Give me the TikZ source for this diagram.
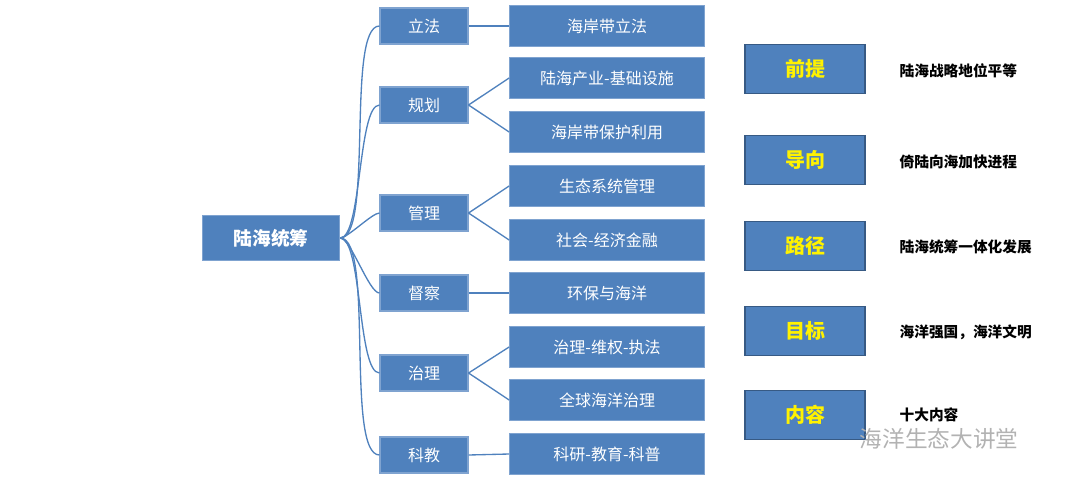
\documentclass[tikz,border=0pt]{standalone}
\usepackage{fontspec}
\setmainfont{Noto Sans CJK SC}
\definecolor{boxblue}{HTML}{4F81BD}
\definecolor{boxline}{HTML}{7FA3D0}
\begin{document}
\begin{tikzpicture}[x=0.75pt,y=-0.75pt,
  box/.style={draw=boxline,fill=boxblue,text=white,line width=0.8pt,inner sep=0pt,font=\fontsize{12}{12}\selectfont},
  mid/.style={box,minimum width=66pt,minimum height=27pt},
  leaf/.style={box,minimum width=146pt,minimum height=31pt},
  key/.style={box,draw=boxblue!70!black,minimum width=90pt,minimum height=37pt,text=yellow,font=\fontsize{15}{15}\bfseries\selectfont},
  note/.style={anchor=west,font=\fontsize{11}{11}\bfseries\selectfont},
  link/.style={draw=boxblue,line width=1pt}]
\useasboundingbox (0,0) rectangle (1080,478);
\node[box,minimum width=103pt,minimum height=34pt,font=\fontsize{14}{14}\bfseries\selectfont] (root) at (271,238) {陆海统筹};
\node[mid] (lifa) at (424,26) {立法};
\node[mid] (guihua) at (424,105) {规划};
\node[mid] (guanli) at (424,213) {管理};
\node[mid] (ducha) at (424,293) {督察};
\node[mid] (zhili) at (424,373) {治理};
\node[mid] (kejiao) at (424,455) {科教};
\node[leaf] (l1) at (607,26) {海岸带立法};
\node[leaf] (l2) at (607,78) {陆海产业-基础设施};
\node[leaf] (l3) at (607,132) {海岸带保护利用};
\node[leaf] (l4) at (607,186) {生态系统管理};
\node[leaf] (l5) at (607,240) {社会-经济金融};
\node[leaf] (l6) at (607,293) {环保与海洋};
\node[leaf] (l7) at (607,347) {治理-维权-执法};
\node[leaf] (l8) at (607,400) {全球海洋治理};
\node[leaf] (l9) at (607,454) {科研-教育-科普};
% connectors
\foreach \m in {lifa,guihua,guanli,ducha,zhili,kejiao}
  \draw[link] (root.east) to[out=0,in=180,looseness=0.4] (\m.west);
\draw[link] (lifa.east) -- (l1.west);
\draw[link] (ducha.east) -- (l6.west);
\draw[link] (kejiao.east) -- (l9.west);
\foreach \m/\a/\b in {guihua/l2/l3,guanli/l4/l5,zhili/l7/l8}{
  \draw[link] (\m.east) -- (\a.west);
  \draw[link] (\m.east) -- (\b.west);}
% right panel
\node[key] (k1) at (805,69) {前提};
\node[key] (k2) at (805,160) {导向};
\node[key] (k3) at (805,246) {路径};
\node[key] (k4) at (805,331) {目标};
\node[key] (k5) at (805,415) {内容};
\node[note] (n1) at (895,71) {陆海战略地位平等};
\node[note] (n2) at (895,162) {倚陆向海加快进程};
\node[note] (n3) at (895,247) {陆海统筹一体化发展};
\node[note] (n4) at (895,332) {海洋强国，海洋文明};
\node[note] (n5) at (895,415) {十大内容};
\node[anchor=west,text=gray!60,font=\fontsize{17}{17}\selectfont] (wm) at (855,439) {海洋生态大讲堂};
\end{tikzpicture}
\end{document}
